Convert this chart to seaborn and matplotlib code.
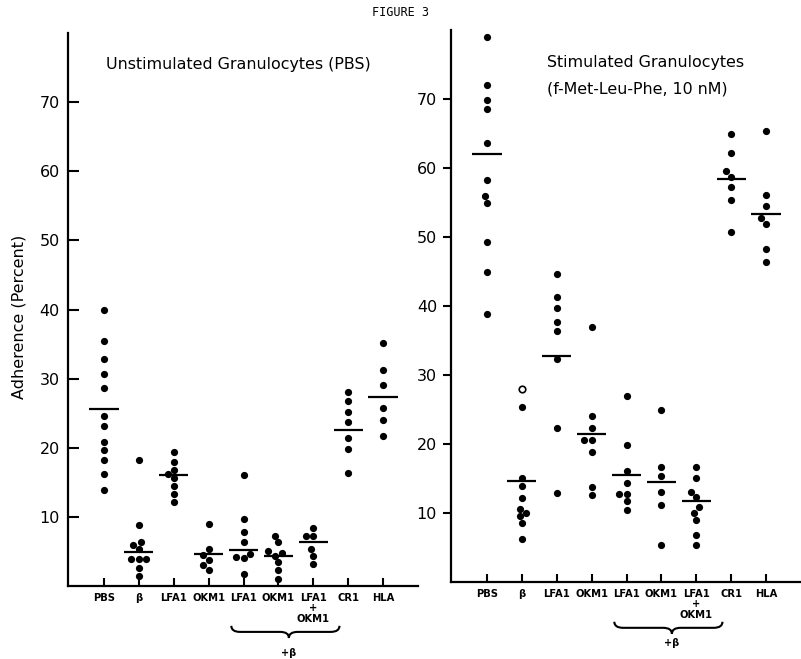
import numpy as np
import pandas as pd
import matplotlib
matplotlib.use("Agg")
import matplotlib.pyplot as plt
import matplotlib.transforms as mtransforms
from matplotlib.path import Path
from matplotlib.patches import PathPatch
import seaborn as sns
import warnings
warnings.filterwarnings("ignore")

sns.set_theme(style="ticks")
plt.rcParams['font.family'] = ['DejaVu Sans']
plt.rcParams['text.color'] = 'black'
plt.rcParams['axes.labelcolor'] = 'black'
plt.rcParams['xtick.color'] = 'black'
plt.rcParams['ytick.color'] = 'black'

# ---------------- data ----------------
categories = ["PBS", "beta", "LFA1", "OKM1", "LFA1+beta", "OKM1+beta",
              "LFA1+OKM1+beta", "CR1", "HLA"]
tick_labels = ["PBS", "β", "LFA1", "OKM1", "LFA1", "OKM1", "LFA1\n+\nOKM1", "CR1", "HLA"]
y_ticks = [10, 20, 30, 40, 50, 60, 70]

# Unstimulated granulocytes (PBS)
unstim_PBS = [39.9, 35.4, 32.8, 30.6, 28.7, 24.6, 23.2, 20.8, 19.7, 18.3, 16.2, 13.9]
unstim_beta = [18.3, 8.8, 6.4, 6.0, 5.4, 3.9, 3.9, 3.9, 2.6, 1.5]
unstim_LFA1 = [19.4, 18.0, 16.8, 16.2, 15.6, 14.5, 13.3, 12.1]
unstim_OKM1 = [9.0, 5.4, 4.5, 3.8, 3.0, 2.3]
unstim_LFA1_beta = [16.0, 9.7, 7.8, 6.4, 4.6, 4.2, 4.0, 1.8]
unstim_OKM1_beta = [7.2, 6.3, 5.0, 4.8, 4.4, 3.5, 2.3, 1.0]
unstim_LFA1_OKM1_beta = [8.4, 7.2, 7.2, 5.3, 4.3, 3.2]
unstim_CR1 = [28.0, 26.8, 25.1, 23.7, 21.4, 19.8, 16.3]
unstim_HLA = [35.1, 31.2, 29.1, 25.8, 24.0, 21.7]
unstim_lines = [25.6, 4.9, 16.0, 4.7, 5.2, 4.4, 6.4, 22.5, 27.4]

# Stimulated granulocytes (f-Met-Leu-Phe, 10 nM)
stim_PBS = [79.0, 72.0, 69.8, 68.5, 63.6, 58.3, 55.9, 54.9, 49.3, 44.9, 38.8]
stim_beta = [25.4, 15.1, 13.9, 12.2, 10.6, 10.0, 9.5, 8.5, 6.2]
stim_beta_open = [27.9]
stim_LFA1 = [44.7, 41.3, 39.7, 37.7, 36.4, 32.3, 22.3, 12.9]
stim_OKM1 = [37.0, 24.1, 22.3, 20.6, 20.6, 18.8, 13.7, 12.6]
stim_LFA1_beta = [26.9, 19.8, 16.1, 14.3, 12.8, 12.8, 11.7, 10.5]
stim_OKM1_beta = [24.9, 16.6, 15.4, 13.0, 11.1, 5.4]
stim_LFA1_OKM1_beta = [16.7, 15.1, 13.0, 12.3, 10.8, 10.0, 9.0, 6.8, 5.3]
stim_CR1 = [65.0, 62.2, 59.5, 58.7, 57.3, 55.3, 50.7]
stim_HLA = [65.3, 56.1, 54.5, 52.7, 51.9, 48.3, 46.4]
stim_lines = [62.0, 14.6, 32.8, 21.5, 15.5, 14.5, 11.7, 58.4, 53.3]

unstim_groups = [unstim_PBS, unstim_beta, unstim_LFA1, unstim_OKM1, unstim_LFA1_beta,
                 unstim_OKM1_beta, unstim_LFA1_OKM1_beta, unstim_CR1, unstim_HLA]
stim_groups = [stim_PBS, stim_beta, stim_LFA1, stim_OKM1, stim_LFA1_beta,
               stim_OKM1_beta, stim_LFA1_OKM1_beta, stim_CR1, stim_HLA]


def long_df(groups):
    rows = []
    for cat, vals in zip(categories, groups):
        for v in vals:
            rows.append({"cat": cat, "val": v})
    return pd.DataFrame(rows)


# ---------------- figure ----------------
W, H = 801, 659
fig = plt.figure(figsize=(W / 100, H / 100), dpi=100)
fig.patch.set_facecolor("white")


def px_axes(x0, y_top, x1, y_bot):
    return fig.add_axes([x0 / W, 1 - y_bot / H, (x1 - x0) / W, (y_bot - y_top) / H])


ax_l = px_axes(68, 33, 418, 586)
ax_r = px_axes(451, 30, 801, 582)

DOT = 5.2


def draw_brace(ax, x0, x1, xm, y, h):
    trans = mtransforms.blended_transform_factory(ax.transData, ax.transAxes)
    r = 0.25
    verts = [(x0, y + h), (x0, y), (x0 + r, y),
             (xm - r, y), (xm, y), (xm, y - h),
             (xm, y), (xm + r, y),
             (x1 - r, y), (x1, y), (x1, y + h)]
    codes = [Path.MOVETO, Path.CURVE3, Path.CURVE3,
             Path.LINETO, Path.CURVE3, Path.CURVE3,
             Path.CURVE3, Path.CURVE3,
             Path.LINETO, Path.CURVE3, Path.CURVE3]
    patch = PathPatch(Path(verts, codes), facecolor="none", edgecolor="black",
                      lw=1.5, transform=trans, clip_on=False)
    ax.add_patch(patch)


def style_panel(ax, groups, lines, ytick_dir, ytick_len, brace_y, beta_y):
    df = long_df(groups)
    sns.swarmplot(data=df, x="cat", y="val", order=categories, color="black",
                  size=DOT, ax=ax, zorder=3)
    xs = np.arange(len(categories))
    ax.hlines(lines, xs - 0.42, xs + 0.42, color="black", lw=1.6, zorder=4)
    ax.set_xlim(-1.03, 9.0)
    ax.set_ylim(0, 80)
    ax.set_yticks(y_ticks)
    ax.set_yticklabels([str(t) for t in y_ticks], fontsize=11.5, fontweight="medium")
    ax.set_xticks(xs)
    ax.set_xticklabels(tick_labels, fontsize=7.2, fontweight="bold", linespacing=1.05)
    ax.set_xlabel("")
    ax.set_ylabel("")
    for s in ["top", "right"]:
        ax.spines[s].set_visible(False)
    for s in ["left", "bottom"]:
        ax.spines[s].set_linewidth(1.6)
        ax.spines[s].set_color("black")
    ax.tick_params(axis="y", direction=ytick_dir, length=ytick_len, width=1.5,
                   colors="black", pad=4 if ytick_dir == "out" else 6)
    ax.tick_params(axis="x", direction="in", length=5.5, width=1.5, colors="black", pad=5)
    ax.set_facecolor("white")
    draw_brace(ax, 3.65, 6.75, 5.3, brace_y, 0.011)
    trans = mtransforms.blended_transform_factory(ax.transData, ax.transAxes)
    ax.text(5.3, beta_y, "+β", transform=trans, ha="center", va="center",
            fontsize=7, fontweight="bold", color="black")


style_panel(ax_l, unstim_groups, unstim_lines, "in", 8, -0.083, -0.122)
style_panel(ax_r, stim_groups, stim_lines, "out", 6, -0.083, -0.11)

# open circle in the stimulated beta group
open_df = pd.DataFrame({"cat": ["beta"] * len(stim_beta_open), "val": stim_beta_open})
sns.stripplot(data=open_df, x="cat", y="val", order=categories, jitter=False,
              color="white", edgecolor="black", linewidth=1.2, size=DOT - 0.5,
              ax=ax_r, zorder=5)
ax_r.set_xlabel("")
ax_r.set_ylabel("")
ax_r.set_xlim(-1.03, 9.0)

# ---------------- texts ----------------
fig.text(400 / W, 1 - 13 / H, "FIGURE 3", ha="center", va="center",
         fontsize=8.5, family="DejaVu Sans Mono", color="black")
fig.text(106 / W, 1 - 64 / H, "Unstimulated Granulocytes (PBS)", ha="left",
         va="center", fontsize=11.4, color="black")
fig.text(547 / W, 1 - 62 / H, "Stimulated Granulocytes", ha="left",
         va="center", fontsize=11.4, color="black")
fig.text(547 / W, 1 - 89 / H, "(f-Met-Leu-Phe, 10 nM)", ha="left",
         va="center", fontsize=11.4, color="black")
fig.text(19 / W, 1 - 317 / H, "Adherence (Percent)", rotation=90,
         ha="center", va="center", fontsize=11.5, color="black")

fig.savefig("out.png", dpi=100, facecolor="white")
